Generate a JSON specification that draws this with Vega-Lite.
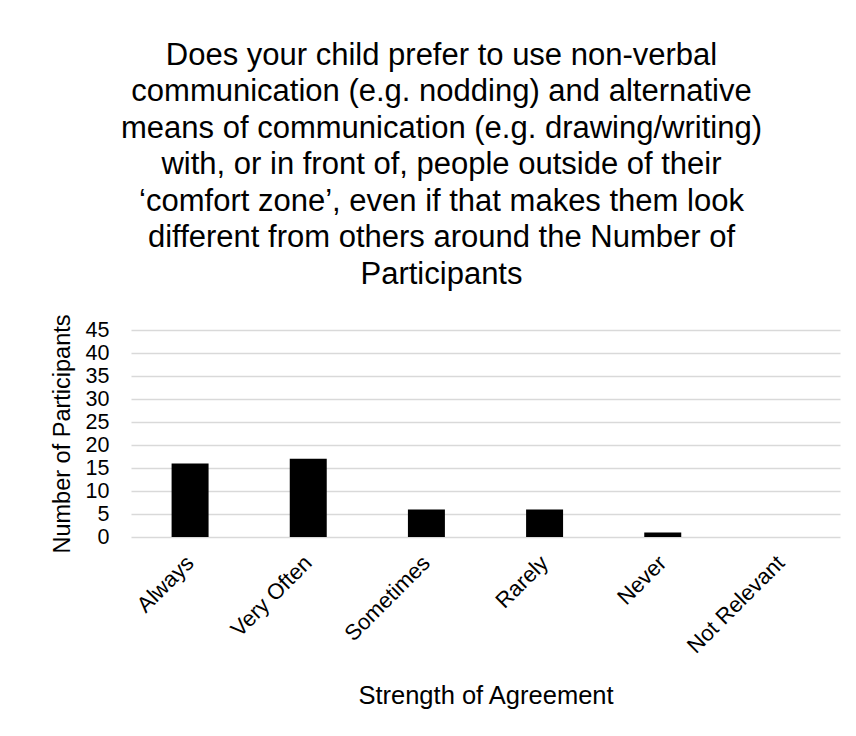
{
  "$schema": "https://vega.github.io/schema/vega-lite/v6.json",
  "autosize": "none",
  "width": 709,
  "height": 207,
  "padding": {"left": 131, "top": 330, "right": 16, "bottom": 199},
  "background": "white",
  "title": {
    "text": ["Does your child prefer to use non-verbal", "communication (e.g. nodding) and alternative", "means of communication (e.g. drawing/writing)", "with, or in front of, people outside of their", "‘comfort zone’, even if that makes them look", "different from others around the Number of", "Participants"],
    "anchor": "middle",
    "dx": -44,
    "offset": 23,
    "font": "Liberation Sans",
    "fontSize": 31,
    "fontWeight": "normal",
    "lineHeight": 36.5,
    "color": "#000000"
  },
  "data": {
    "values": [
      {"category": "Always", "count": 16},
      {"category": "Very Often", "count": 17},
      {"category": "Sometimes", "count": 6},
      {"category": "Rarely", "count": 6},
      {"category": "Never", "count": 1},
      {"category": "Not Relevant", "count": 0}
    ]
  },
  "mark": {"type": "bar", "color": "#000000"},
  "encoding": {
    "x": {
      "field": "category",
      "type": "nominal",
      "sort": null,
      "scale": {"paddingInner": 0.687, "paddingOuter": 0.3435},
      "axis": {
        "title": "Strength of Agreement",
        "labelAngle": -45,
        "labelAlign": "right",
        "labelBaseline": "middle",
        "labelPadding": 22,
        "labelFont": "Liberation Sans",
        "labelFontSize": 22,
        "labelColor": "#000000",
        "titleFont": "Liberation Sans",
        "titleFontSize": 25.5,
        "titleFontWeight": "normal",
        "titleColor": "#000000",
        "titleY": 146,
        "titleBaseline": "top",
        "domain": false,
        "ticks": false
      }
    },
    "y": {
      "field": "count",
      "type": "quantitative",
      "scale": {"domain": [0, 45]},
      "axis": {
        "title": "Number of Participants",
        "values": [0, 5, 10, 15, 20, 25, 30, 35, 40, 45],
        "labelPadding": 22,
        "labelFont": "Liberation Sans",
        "labelFontSize": 21.5,
        "labelColor": "#000000",
        "titleFont": "Liberation Sans",
        "titleFontSize": 23.5,
        "titleFontWeight": "normal",
        "titleColor": "#000000",
        "titleX": -62,
        "titleBaseline": "alphabetic",
        "domain": false,
        "ticks": false,
        "grid": true,
        "gridColor": "#d9d9d9",
        "gridWidth": 1.5
      }
    }
  },
  "config": {
    "view": {"stroke": null}
  }
}
